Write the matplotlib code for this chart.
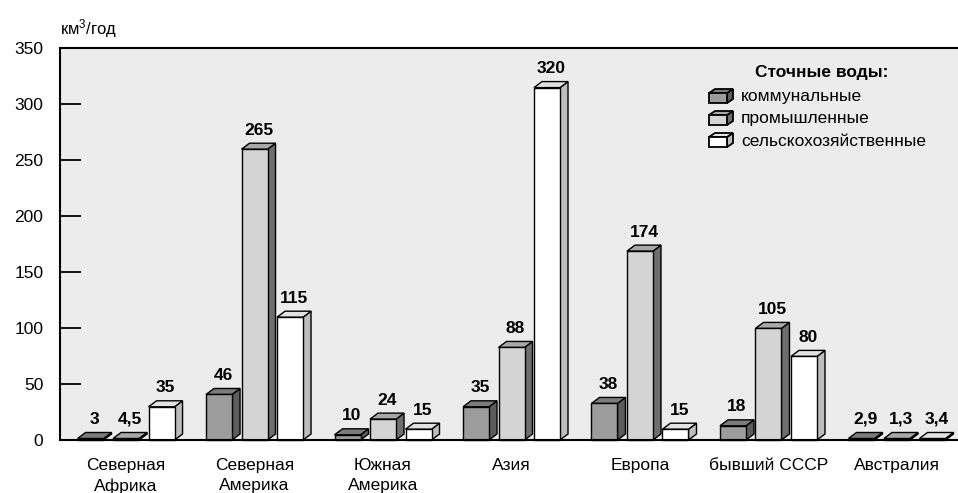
import matplotlib
matplotlib.use("Agg")
import matplotlib.pyplot as plt
from matplotlib.patches import Polygon

plt.rcParams['font.family'] = ['Liberation Sans', 'DejaVu Sans']
plt.rcParams['mathtext.fontset'] = 'custom'
plt.rcParams['mathtext.rm'] = 'Liberation Sans'
plt.rcParams['mathtext.it'] = 'Liberation Sans'

# Сточные воды по регионам, км3/год
regions = ["Северная\nАфрика", "Северная\nАмерика", "Южная\nАмерика", "Азия",
           "Европа", "бывший СССР", "Австралия"]
communal = [3, 46, 10, 35, 38, 18, 2.9]
industrial = [4.5, 265, 24, 88, 174, 105, 1.3]
agricultural = [35, 115, 15, 320, 15, 80, 3.4]
value_labels = [
    ["3", "46", "10", "35", "38", "18", "2,9"],
    ["4,5", "265", "24", "88", "174", "105", "1,3"],
    ["35", "115", "15", "320", "15", "80", "3,4"],
]
series_names = ["коммунальные", "промышленные", "сельскохозяйственные"]
yticks = [0, 50, 100, 150, 200, 250, 300, 350]

# front, side, top colours of each series
palette = [
    ("#9c9c9c", "#5c5c5c", "#7c7c7c"),
    ("#d4d4d4", "#6e6e6e", "#a8a8a8"),
    ("#ffffff", "#bdbdbd", "#e2e2e2"),
]

fig = plt.figure(figsize=(9.58, 4.93), dpi=100)
ax = fig.add_axes([60 / 958, 53 / 493, 898 / 958, 392 / 493])
ax.set_facecolor("#ececec")
ax.set_xlim(-0.514, 6.475)
ax.set_ylim(0, 350)


def box(ax, x0, y0, w, h, dx, dy, colors, transform, lw=1.0):
    front, side, top = colors
    kw = dict(transform=transform, edgecolor="black", linewidth=lw,
              joinstyle="miter", clip_on=False)
    ax.add_patch(Polygon([(x0 + w, y0), (x0 + w + dx, y0 + dy),
                          (x0 + w + dx, y0 + h + dy), (x0 + w, y0 + h)],
                         facecolor=side, **kw))
    ax.add_patch(Polygon([(x0, y0 + h), (x0 + w, y0 + h),
                          (x0 + w + dx, y0 + h + dy), (x0 + dx, y0 + h + dy)],
                         facecolor=top, **kw))
    ax.add_patch(Polygon([(x0, y0), (x0 + w, y0), (x0 + w, y0 + h), (x0, y0 + h)],
                         facecolor=front, **kw))


# pixel sizes converted to data units
px_x = 1 / (ax.transData.transform((1, 0))[0] - ax.transData.transform((0, 0))[0])
px_y = 1 / (ax.transData.transform((0, 1))[1] - ax.transData.transform((0, 0))[1])
bar_w = 26 * px_x
step = 35.5 * px_x
depth_x = 8 * px_x
depth_y = 6 * px_y

for j, values in enumerate([communal, industrial, agricultural]):
    for i, v in enumerate(values):
        x0 = i + (j - 1) * step - bar_w / 2
        h = max(v - depth_y, 1.5 * px_y)
        box(ax, x0, 0, bar_w, h, depth_x, depth_y, palette[j], ax.transData)
        ax.annotate(value_labels[j][i], (x0 + (bar_w + depth_x) / 2, h + depth_y),
                    xytext=(0, 4), textcoords="offset points",
                    ha="center", va="bottom", fontsize=12.5, fontweight="bold")

ax.set_xticks(range(len(regions)))
ax.set_xticklabels(regions, fontsize=12.5, linespacing=1.45, va="top")
ax.tick_params(axis="x", length=0, pad=13)
ax.set_yticks(yticks)
ax.set_yticklabels([str(t) for t in yticks], fontsize=12.5)
ax.tick_params(axis="y", direction="in", length=15, width=1.3, pad=12)

for s in ["left", "top", "bottom"]:
    ax.spines[s].set_linewidth(1.5)
ax.spines["right"].set_visible(False)

fig.text(60 / 958, 1 - 29 / 493, "км$^3$/год", fontsize=12, ha="left", va="center")

# legend drawn by hand with small boxes
ax_w, ax_h = 898, 392
ax.text((822 - 60) / ax_w, (440 - 72) / ax_h, "Сточные воды:", transform=ax.transAxes,
        ha="center", va="center", fontsize=12.5, fontweight="bold")
for j, name in enumerate(series_names):
    cy = 97 + j * 22
    bx = (709 - 60) / ax_w
    by = (440 - cy - 6) / ax_h
    box(ax, bx, by, 18 / ax_w, 10 / ax_h, 6 / ax_w, 4 / ax_h, palette[j],
        ax.transAxes, lw=1.3)
    ax.text((741 - 60) / ax_w, (440 - cy) / ax_h, name, transform=ax.transAxes,
            ha="left", va="center", fontsize=12.5)

fig.savefig("out.png", dpi=100)
